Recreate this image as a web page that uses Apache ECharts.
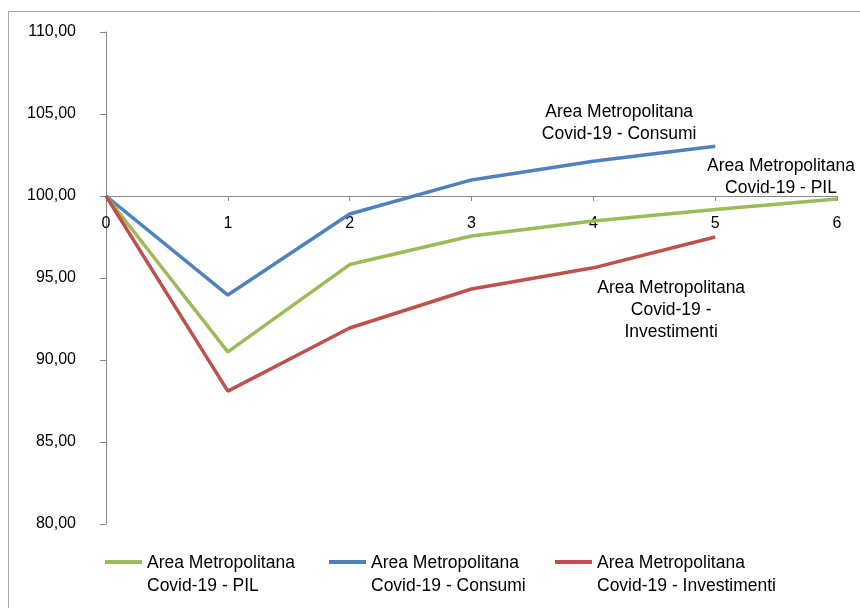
<!DOCTYPE html>
<html>
<head>
<meta charset="utf-8">
<script src="https://cdn.jsdelivr.net/npm/echarts@6/dist/echarts.min.js"></script>
<style>
  html, body { margin: 0; padding: 0; background: #fff; }
  #chart { width: 860px; height: 608px; }
</style>
</head>
<body>
<div id="chart"></div>
<script>
// Periods after the shock (x) and index values (base 100) per scenario
const periods = ['0', '1', '2', '3', '4', '5', '6'];
const pil = [100, 90.5, 95.82, 97.56, 98.48, 99.18, 99.82];
const consumi = [100, 93.96, 98.9, 100.98, 102.12, 103.03];
const investimenti = [100, 88.1, 91.95, 94.33, 95.62, 97.5];

const seriesNames = [
  'Area Metropolitana\nCovid-19 - PIL',
  'Area Metropolitana\nCovid-19 - Consumi',
  'Area Metropolitana\nCovid-19 - Investimenti'
];
const endLabels = [
  'Area Metropolitana\nCovid-19 - PIL',
  'Area Metropolitana\nCovid-19 - Consumi',
  'Area Metropolitana\nCovid-19 -\nInvestimenti'
];
const yTicks = { min: 80, max: 110, interval: 5 };

const colors = ['#9BBB59', '#4F81BD', '#C0504D'];
const FONT = 'Liberation Sans';
const axisGray = '#868686';

const gridTop = 32, gridBottom = 84;
const plotH = 608 - gridTop - gridBottom;
// the category axis crosses the value axis at 100
const xOffset = -plotH * (100 - yTicks.min) / (yTicks.max - yTicks.min);

function withEndLabel(values, text, offset) {
  return values.map((v, i) => i === values.length - 1
    ? { value: v, label: { show: true, formatter: text, position: 'inside', offset: offset,
        color: '#000', fontFamily: FONT, fontSize: 17.5, lineHeight: 22, align: 'center' } }
    : v);
}

// legend icon: thin bar sitting at the height of the first text line
const legendIcon = 'path://M0,0L37,0L37,4L0,4Z M0,30L0.01,30L0,29.99Z';
function legendFor(name, left) {
  return {
    data: [name], left: left, top: 552, padding: 0,
    icon: legendIcon, itemWidth: 37, itemHeight: 30,
    textStyle: { color: '#000', fontFamily: FONT, fontSize: 17.5, lineHeight: 23 }
  };
}

const chart = echarts.init(document.getElementById('chart'), null, { renderer: 'canvas' });
chart.setOption({
  animation: false,
  backgroundColor: '#fff',
  graphic: [{
    type: 'rect', silent: true, z: -1,
    shape: { x: 8.5, y: 11.5, width: 1000, height: 1000 },
    style: { fill: 'none', stroke: '#a6a6a6', lineWidth: 1 }
  }],
  grid: { left: 106, right: 23, top: gridTop, bottom: gridBottom },
  legend: [
    legendFor(seriesNames[0], 105),
    legendFor(seriesNames[1], 329),
    legendFor(seriesNames[2], 555)
  ],
  xAxis: {
    type: 'category', data: periods, boundaryGap: false,
    position: 'bottom', offset: xOffset,
    axisLine: { onZero: false, lineStyle: { color: axisGray, width: 1 } },
    axisTick: { show: true, length: 5, inside: false, lineStyle: { color: axisGray } },
    axisLabel: { color: '#000', fontFamily: FONT, fontSize: 16, margin: 20, interval: 0 },
    splitLine: { show: false }
  },
  yAxis: {
    type: 'value', min: yTicks.min, max: yTicks.max, interval: yTicks.interval,
    axisLine: { show: true, lineStyle: { color: axisGray, width: 1 } },
    axisTick: { show: true, length: 6, lineStyle: { color: axisGray } },
    axisLabel: { color: '#000', fontFamily: FONT, fontSize: 16, margin: 30,
      formatter: v => v.toFixed(2).replace('.', ',') },
    splitLine: { show: false }
  },
  series: [
    { name: seriesNames[0], type: 'line', data: withEndLabel(pil, endLabels[0], [-56, -22]),
      color: colors[0], lineStyle: { width: 3.5, color: colors[0] },
      symbol: 'circle', symbolSize: 0, showSymbol: true, z: 3 },
    { name: seriesNames[1], type: 'line', data: withEndLabel(consumi, endLabels[1], [-96, -23]),
      color: colors[1], lineStyle: { width: 3.5, color: colors[1] },
      symbol: 'circle', symbolSize: 0, showSymbol: true, z: 2 },
    { name: seriesNames[2], type: 'line', data: withEndLabel(investimenti, endLabels[2], [-44, 73]),
      color: colors[2], lineStyle: { width: 3.5, color: colors[2] },
      symbol: 'circle', symbolSize: 0, showSymbol: true, z: 4 }
  ]
});
</script>
</body>
</html>
